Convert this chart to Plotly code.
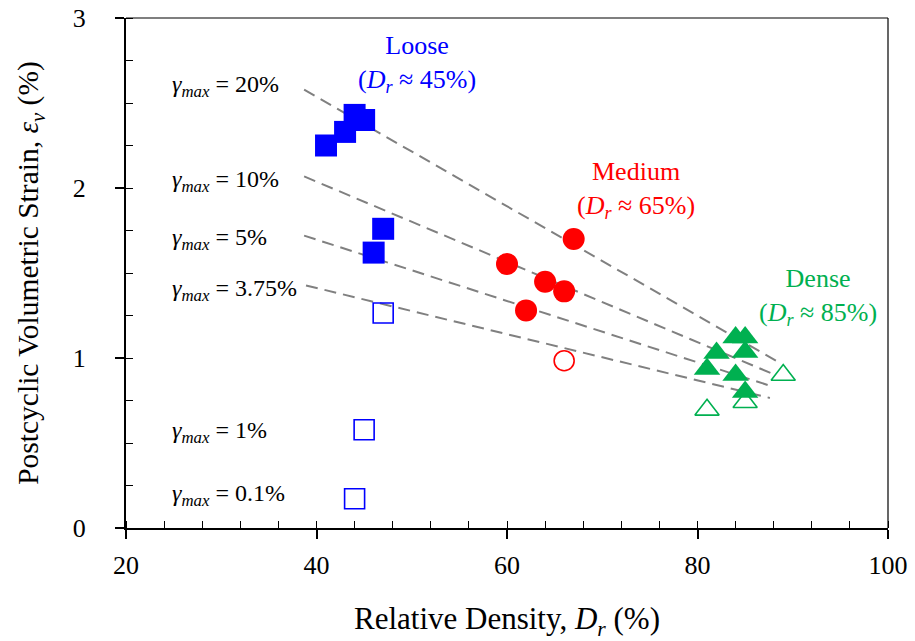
import plotly.graph_objects as go

# ---- data ----
loose_fill_x = [41, 43, 44, 45, 47, 46]
loose_fill_y = [2.25, 2.33, 2.43, 2.40, 1.76, 1.62]
loose_open_x = [47, 45, 44]
loose_open_y = [1.265, 0.578, 0.172]

med_fill_x = [67, 60, 64, 66, 62]
med_fill_y = [1.70, 1.553, 1.449, 1.392, 1.28]
med_open_x = [66]
med_open_y = [0.984]

dense_fill_x = [84, 85, 85, 82, 81, 84, 85]
dense_fill_y = [1.12, 1.12, 1.035, 1.03, 0.935, 0.90, 0.80]
dense_open_x = [89, 81, 85]
dense_open_y = [0.90, 0.695, 0.74]

trend_names = ["20%", "10%", "5%", "3.75%"]
trend_x = [[38.7, 88.8], [38.7, 88.1], [38.7, 87.6], [38.9, 87.6]]
trend_y = [[2.578, 0.966], [2.068, 0.902], [1.72, 0.837], [1.427, 0.765]]

gamma_labels = ["20%", "10%", "5%", "3.75%", "1%", "0.1%"]
gamma_label_y = [2.60, 2.04, 1.70, 1.40, 0.567, 0.196]
gamma_label_x = 24.6

group_text = ["Loose", "Medium", "Dense"]
group_dr = ["45%", "65%", "85%"]
group_x = [50.6, 73.5, 92.6]
group_y = [2.73, 1.99, 1.36]

BLUE = "#0000FF"
RED = "#FF0000"
GREEN = "#00B050"
FONT = "Liberation Serif, Times New Roman, DejaVu Serif, serif"

fig = go.Figure()

for xs, ys in zip(trend_x, trend_y):
    fig.add_trace(go.Scatter(x=xs, y=ys, mode="lines",
                             line=dict(color="#808080", width=2, dash="12px,7px"),
                             showlegend=False, hoverinfo="skip"))

def add_markers(xs, ys, symbol, color, filled):
    if filled:
        marker = dict(symbol=symbol, size=22 if symbol != "triangle-up" else 23,
                      color=color, line=dict(width=0))
    else:
        marker = dict(symbol=symbol, size=20 if symbol != "triangle-up" else 21,
                      color="rgba(0,0,0,0)", line=dict(color=color, width=1.6))
    fig.add_trace(go.Scatter(x=xs, y=ys, mode="markers", marker=marker, showlegend=False))

add_markers(loose_fill_x, loose_fill_y, "square", BLUE, True)
add_markers(loose_open_x, loose_open_y, "square", BLUE, False)
add_markers(med_fill_x, med_fill_y, "circle", RED, True)
add_markers(med_open_x, med_open_y, "circle", RED, False)
add_markers(dense_fill_x, dense_fill_y, "triangle-up", GREEN, True)
add_markers(dense_open_x, dense_open_y, "triangle-up", GREEN, False)

for lab, yy in zip(gamma_labels, gamma_label_y):
    fig.add_annotation(x=gamma_label_x, y=yy, xref="x", yref="y", xanchor="left", yanchor="middle",
                       text="<i>γ<sub>max</sub></i> = " + lab, showarrow=False,
                       font=dict(family=FONT, size=24, color="black"))

for t, dr, xx, yy, c in zip(group_text, group_dr, group_x, group_y, [BLUE, RED, GREEN]):
    fig.add_annotation(x=xx, y=yy, xref="x", yref="y", xanchor="center", yanchor="middle",
                       text=t + "<br>(<i>D<sub>r</sub></i> ≈ " + dr + ")", showarrow=False,
                       font=dict(family=FONT, size=26, color=c))

axis_common = dict(showgrid=False, zeroline=False, showline=True, linecolor="black",
                   linewidth=2, ticks="outside", ticklen=9, tickwidth=1.5, tickcolor="black",
                   automargin=False,
                   tickfont=dict(family=FONT, size=26, color="black"))

fig.update_layout(
    template="none",
    width=915, height=641,
    margin=dict(l=126, r=27, t=18, b=113),
    plot_bgcolor="white", paper_bgcolor="white",
    font=dict(family=FONT, color="black"),
    xaxis=dict(range=[20, 100], dtick=20, tick0=20, ticklabelstandoff=4,
               minor=dict(ticks="inside", ticklen=7, dtick=4, tickwidth=1.2, tickcolor="black"),
               title=dict(text="Relative Density, <i>D<sub>r</sub></i> (%)",
                          font=dict(family=FONT, size=31), standoff=33),
               **axis_common),
    yaxis=dict(range=[0, 3], dtick=1, tick0=0, ticklabelstandoff=24,
               minor=dict(ticks="inside", ticklen=7, dtick=0.25, tickwidth=1.2, tickcolor="black"),
               title=dict(text="Postcyclic Volumetric Strain, <i>ε<sub>v</sub></i> (%)",
                          font=dict(family=FONT, size=29.5), standoff=25),
               **axis_common),
    xaxis2=dict(overlaying="x", matches="x", anchor="y", side="bottom", range=[20, 100],
                dtick=20, tick0=20, ticks="inside", ticklen=9, tickwidth=1.5, tickcolor="black",
                showticklabels=False, showgrid=False, zeroline=False, showline=False, automargin=False),
    yaxis2=dict(overlaying="y", matches="y", anchor="x", side="left", range=[0, 3],
                dtick=1, tick0=0, ticks="inside", ticklen=9, tickwidth=1.5, tickcolor="black",
                showticklabels=False, showgrid=False, zeroline=False, showline=False, automargin=False),
    shapes=[
        dict(type="line", xref="paper", yref="paper", x0=0, x1=1, y0=1, y1=1,
             line=dict(color="black", width=1.2)),
        dict(type="line", xref="paper", yref="paper", x0=1, x1=1, y0=0, y1=1,
             line=dict(color="black", width=1.2)),
        dict(type="line", xref="paper", yref="y", x0=-0.013, x1=0, y0=3, y1=3,
             line=dict(color="black", width=1.2)),
        dict(type="line", xref="x", yref="paper", x0=100, x1=100, y0=-0.018, y1=0,
             line=dict(color="black", width=1.2)),
    ],
)

fig.write_html("out.html")
